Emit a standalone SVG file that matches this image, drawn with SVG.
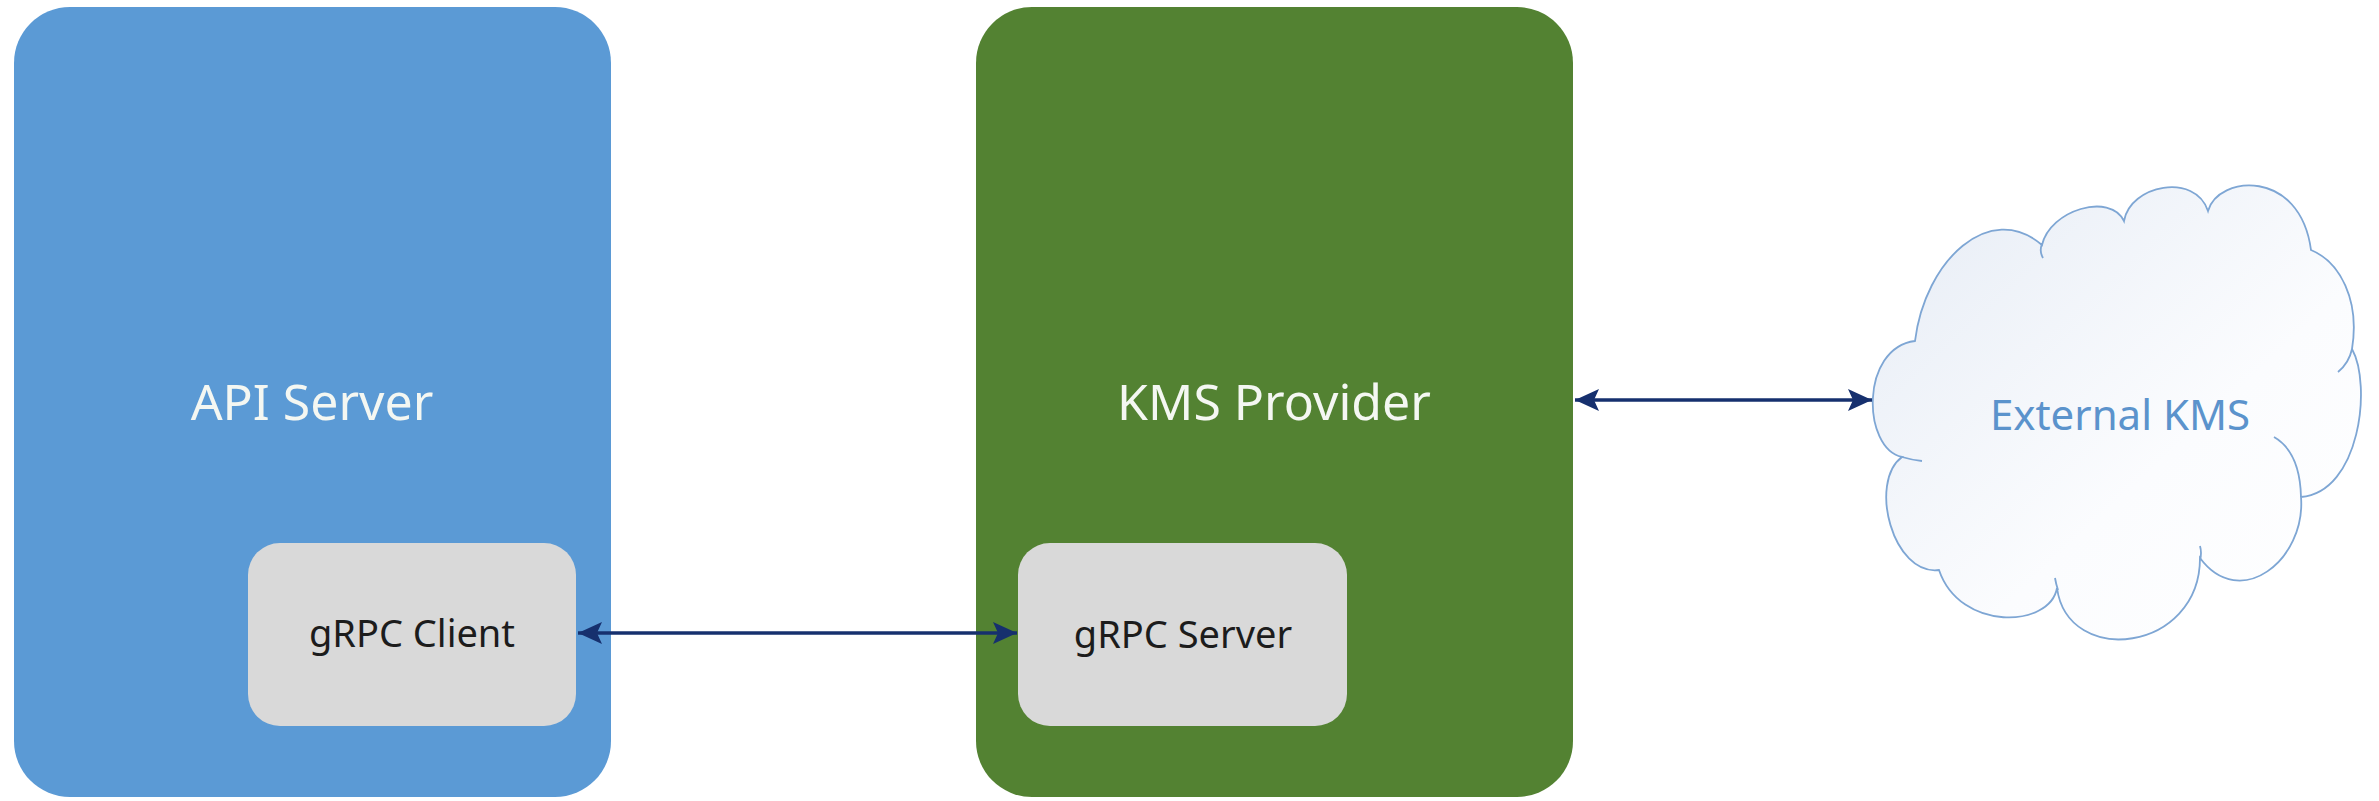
<svg xmlns="http://www.w3.org/2000/svg" width="2379" height="801" viewBox="0 0 2379 801">
  <defs>
    <linearGradient id="cloudFill" x1="0" y1="0" x2="1" y2="1">
      <stop offset="0" stop-color="#e6ecf5"/>
      <stop offset="0.6" stop-color="#fbfcfe"/>
      <stop offset="1" stop-color="#ffffff"/>
    </linearGradient>
    <marker id="arrowHead" markerUnits="userSpaceOnUse" markerWidth="26" markerHeight="24" refX="24" refY="12" orient="auto-start-reverse">
      <path d="M0,1 L24,12 L0,23 L5,12 Z" fill="#16306e"/>
    </marker>
    <style>
      .container-label { font-family: "Noto Sans", "Open Sans", sans-serif; font-size: 50px; fill: #f4f7f2; text-anchor: middle; }
      .inner-box { fill: #d9d9d9; }
      .inner-label { font-family: "Noto Sans", "Open Sans", sans-serif; font-size: 38px; fill: #1c1c1c; text-anchor: middle; }
      .cloud { fill: url(#cloudFill); stroke: #7ea6d4; stroke-width: 1.8; }
      .cloud-inner { fill: none; stroke: #7ea6d4; stroke-width: 1.8; }
      .cloud-label { font-family: "Noto Sans", "Open Sans", sans-serif; font-size: 42px; fill: #5b93cc; text-anchor: middle; }
      .link { stroke: #16306e; stroke-width: 3.5; fill: none; marker-start: url(#arrowHead); marker-end: url(#arrowHead); }
    </style>
  </defs>

  <rect width="2379" height="801" fill="#ffffff"/>

  <!-- API Server container with its gRPC client -->
  <g id="api-server">
    <rect x="14" y="7" width="597" height="790" rx="56" ry="56" fill="#5b9ad5"/>
    <text class="container-label" x="312" y="420">API Server</text>
  </g>
  <g id="grpc-client">
    <rect class="inner-box" x="248" y="543" width="328" height="183" rx="32" ry="32"/>
    <text class="inner-label" x="412" y="647">gRPC Client</text>
  </g>

  <!-- KMS Provider container with its gRPC server -->
  <g id="kms-provider">
    <rect x="976" y="7" width="597" height="790" rx="56" ry="56" fill="#538232"/>
    <text class="container-label" x="1274" y="420">KMS Provider</text>
  </g>
  <g id="grpc-server">
    <rect class="inner-box" x="1018" y="543" width="329" height="183" rx="32" ry="32"/>
    <text class="inner-label" x="1183" y="648">gRPC Server</text>
  </g>

  <!-- External KMS cloud -->
  <g id="external-kms">
    <path class="cloud" d="M 1915 341
      C 1925 260, 1990 200, 2042 245
      C 2050 210, 2110 192, 2124 221
      C 2130 185, 2195 172, 2208 211
      C 2218 175, 2300 168, 2311 250
      C 2340 262, 2360 300, 2352 349
      C 2372 385, 2360 492, 2301 497
      C 2306 560, 2240 612, 2200 558
      C 2200 652, 2068 668, 2057 588
      C 2050 628, 1960 632, 1939 570
      C 1893 576, 1868 482, 1902 457
      C 1862 448, 1860 348, 1915 341 Z"/>
    <path class="cloud-inner" d="M 2043 258 Q 2039 251 2042 244"/>
    <path class="cloud-inner" d="M 2352 349 Q 2349 363 2338 372"/>
    <path class="cloud-inner" d="M 2274 437 Q 2300 452 2301 497"/>
    <path class="cloud-inner" d="M 2200 546 Q 2202 553 2200 560"/>
    <path class="cloud-inner" d="M 2055 578 Q 2056 584 2058 590"/>
    <path class="cloud-inner" d="M 1902 457 Q 1912 460 1922 461"/>
    <text class="cloud-label" x="2120" y="430">External KMS</text>
  </g>

  <!-- Connectors -->
  <g id="connectors">
    <line class="link" x1="578" y1="633" x2="1017" y2="633"/>
    <line class="link" x1="1575" y1="400" x2="1872" y2="400"/>
  </g>
</svg>
